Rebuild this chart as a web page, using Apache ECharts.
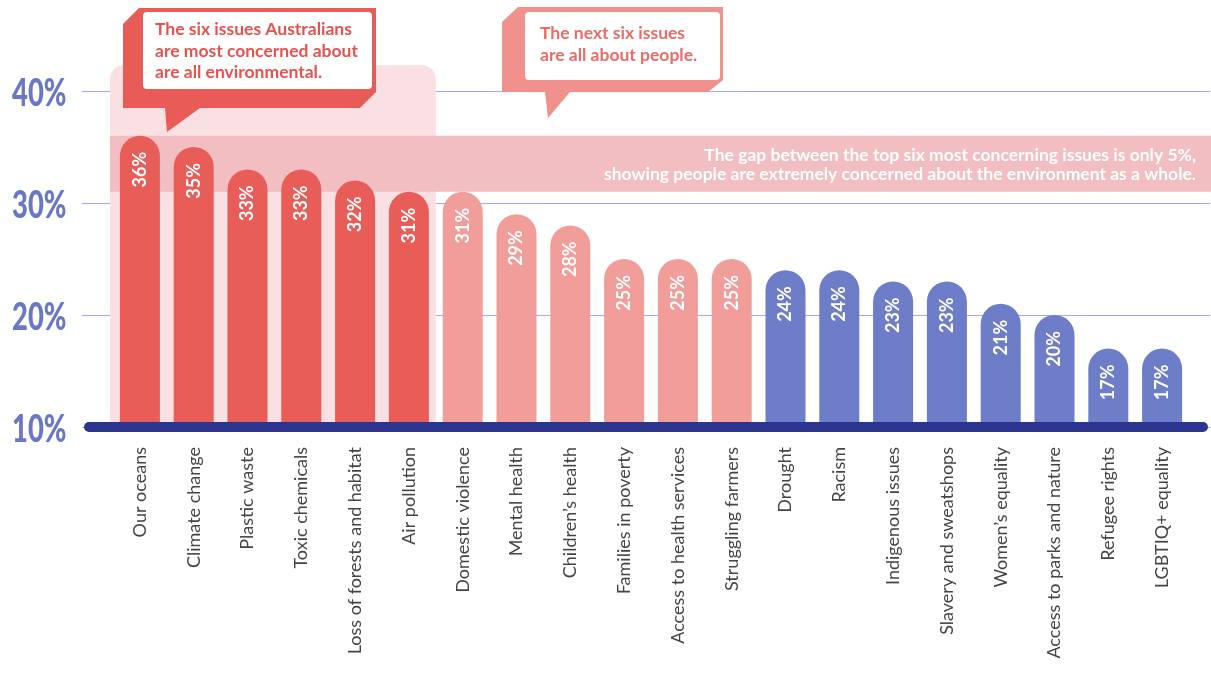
<!DOCTYPE html>
<html>
<head>
<meta charset="utf-8">
<title>Issues Australians are most concerned about</title>
<script src="https://cdn.jsdelivr.net/npm/echarts@6/dist/echarts.min.js"></script>
<style>
  html, body { margin: 0; padding: 0; background: #ffffff; }
  #chart { width: 1211px; height: 675px; }
</style>
</head>
<body>
<div id="chart"></div>
<script>
// Issues, ordered by share of people concerned
const categories = [
  'Our oceans', 'Climate change', 'Plastic waste', 'Toxic chemicals',
  'Loss of forests and habitat', 'Air pollution', 'Domestic violence',
  'Mental health', 'Children\u2019s health', 'Families in poverty',
  'Access to health services', 'Struggling farmers', 'Drought', 'Racism',
  'Indigenous issues', 'Slavery and sweatshops', 'Women\u2019s equality',
  'Access to parks and nature', 'Refugee rights', 'LGBTIQ+ equality'
];
const values = [36, 35, 33, 33, 32, 31, 31, 29, 28, 25, 25, 25, 24, 24, 23, 23, 21, 20, 17, 17];
// group of each issue: environment, people, other
const groups = ['env', 'env', 'env', 'env', 'env', 'env',
  'people', 'people', 'people', 'people', 'people', 'people',
  'other', 'other', 'other', 'other', 'other', 'other', 'other', 'other'];
const yTicks = [10, 20, 30, 40];
// spread of the top six issues (percent)
const gapBand = [31, 36];
const envPanelTop = 42.3;

const groupColors = { env: '#E85D58', people: '#F19E9A', other: '#6E7DC8' };
const NAVY = '#2B3590';
const TICK_BLUE = '#6878C4';
const SANS = 'Lato, "Open Sans", sans-serif';

const chart = echarts.init(document.getElementById('chart'), null, { renderer: 'canvas' });

const gridTop = 91, gridBottom = 248;
const yRange = { min: yTicks[0], max: yTicks[yTicks.length - 1], interval: 10 };

const option = {
  animation: false,
  backgroundColor: '#ffffff',
  grid: [
    // full-width frame: gridlines
    { left: 82, right: 1, top: gridTop, bottom: gridBottom },
    // bars
    { left: 113, right: 22, top: gridTop, bottom: gridBottom },
    // thick baseline with rounded ends
    { left: 89, right: 8, top: gridTop, bottom: gridBottom }
  ],
  xAxis: [
    {
      gridIndex: 0, type: 'value', min: 0, max: 1, show: false
    },
    {
      gridIndex: 1, type: 'category', data: categories,
      axisLine: { show: false, onZero: false }, axisTick: { show: false },
      axisLabel: {
        rotate: 90, margin: 20, color: '#454545',
        fontFamily: SANS, fontSize: 18, interval: 0
      }
    },
    {
      gridIndex: 2, type: 'value', min: 0, max: 1, z: 6,
      axisLine: { show: true, onZero: false, lineStyle: { color: NAVY, width: 10, cap: 'round' } },
      axisTick: { show: false }, axisLabel: { show: false }, splitLine: { show: false }
    }
  ],
  yAxis: [
    Object.assign({
      gridIndex: 0, type: 'value', z: 0,
      axisLine: { show: false }, axisTick: { show: false },
      axisLabel: { show: false },
      splitLine: { show: true, lineStyle: { color: '#A3ABDF', width: 1 } }
    }, yRange),
    Object.assign({ gridIndex: 1, type: 'value', show: false, splitLine: { show: false } }, yRange),
    Object.assign({ gridIndex: 2, type: 'value', show: false, splitLine: { show: false } }, yRange)
  ],
  series: [{
    type: 'bar',
    xAxisIndex: 1, yAxisIndex: 1,
    barWidth: 40, z: 4,
    data: values.map((v, i) => ({
      value: v,
      itemStyle: { color: groupColors[groups[i]], borderRadius: [20, 20, 0, 0] }
    })),
    label: {
      show: true, position: 'insideTop', rotate: 90, align: 'right', verticalAlign: 'middle',
      distance: 16, color: '#ffffff', fontFamily: SANS, fontWeight: 'bold', fontSize: 18,
      formatter: '{c}%'
    }
  }]
};

chart.setOption(option);

// Annotation layer placed from the axes' own scales
function drawAnnotations() {
  const W = chart.getWidth();
  const px = (cat) => chart.convertToPixel({ xAxisIndex: 1 }, cat);
  const py = (v) => chart.convertToPixel({ yAxisIndex: 1 }, v);
  const bandW = px(categories[1]) - px(categories[0]);
  const envLeft = px(categories[0]) - bandW / 2 - 3;
  const envRight = px(categories[5]) + bandW / 2;
  const base = py(yTicks[0]);

  // condensed percent tick labels
  const tickLabels = yTicks.map((t) => ({
    type: 'text', z: 7, x: 12, y: py(t) + 3, scaleX: 0.74,
    style: { text: t + '%', fill: TICK_BLUE, font: '900 37px ' + SANS, verticalAlign: 'middle', align: 'left' }
  }));

  const panel = {
    type: 'rect', z: 2,
    shape: { x: envLeft, y: py(envPanelTop), width: envRight - envLeft, height: base - py(envPanelTop), r: [14, 14, 0, 0] },
    style: { fill: '#FBE0E3' }
  };
  const band = {
    type: 'rect', z: 3,
    shape: { x: envLeft, y: py(gapBand[1]), width: W - envLeft, height: py(gapBand[0]) - py(gapBand[1]) },
    style: { fill: '#F2BEC2' }
  };
  const bandText = {
    type: 'text', z: 7,
    x: W - 15, y: (py(gapBand[1]) + py(gapBand[0])) / 2 + 1,
    style: {
      text: 'The gap between the top six most concerning issues is only 5%,\nshowing people are extremely concerned about the environment as a whole.',
      fill: '#ffffff', font: 'bold 17.5px ' + SANS, align: 'right', verticalAlign: 'middle', lineHeight: 19
    }
  };

  function bubble(outline, face, color, textColor, lines, tx, ty) {
    return {
      type: 'group', z: 8,
      children: [
        { type: 'polygon', z: 8, shape: { points: outline }, style: { fill: color } },
        { type: 'rect', z: 8, shape: Object.assign({ r: 4 }, face), style: { fill: '#ffffff' } },
        {
          type: 'text', z: 8, x: tx, y: ty,
          style: { text: lines, fill: textColor, font: 'bold 17.5px ' + SANS, lineHeight: 21.5, verticalAlign: 'top' }
        }
      ]
    };
  }

  const envBubble = bubble(
    [[139, 8], [376, 8], [376, 92], [360, 108], [200, 108], [167, 132], [165, 108], [123, 108], [123, 24]],
    { x: 143, y: 12, width: 229, height: 77 },
    '#E85B57', '#E8524E',
    'The six issues Australians\nare most concerned about\nare all environmental.', 155, 19
  );
  const peopleBubble = bubble(
    [[518, 7], [723, 7], [723, 80], [708, 92], [570, 92], [548, 118], [545, 92], [502, 92], [502, 22]],
    { x: 525, y: 12, width: 195, height: 68 },
    '#F0918D', '#EC6B67',
    'The next six issues\nare all about people.', 540, 23
  );

  chart.setOption({ graphic: tickLabels.concat([panel, band, bandText, envBubble, peopleBubble]) });
}

drawAnnotations();
</script>
</body>
</html>
